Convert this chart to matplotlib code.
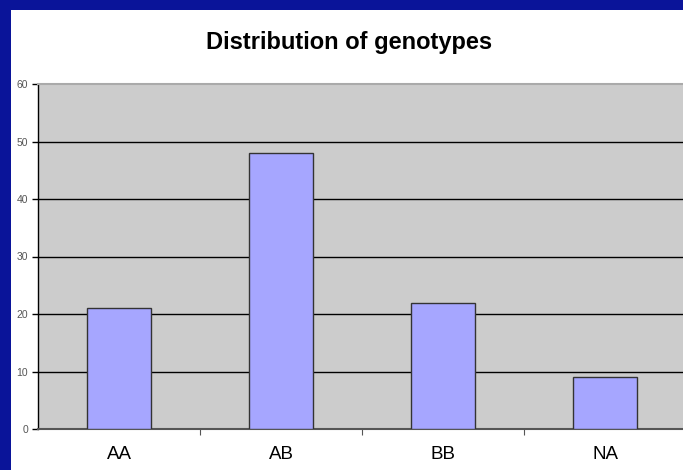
import matplotlib.pyplot as plt
import matplotlib.patches as patches
import numpy as np

categories = ['AA', 'AB', 'BB', 'NA']
counts = [21, 48, 22, 9]
yticks = [0, 10, 20, 30, 40, 50, 60]

W, H = 683, 470
fig = plt.figure(figsize=(W / 100, H / 100), dpi=100, facecolor='#0a1499')

# white panel inside the blue frame
fig.patches.append(patches.Rectangle((11 / W, 0), 1 - 11 / W, 1 - 10 / H,
                                     transform=fig.transFigure, facecolor='white',
                                     edgecolor='none', zorder=-5))

ax = fig.add_axes([38 / W, 1 - 429 / H, 648 / W, 345 / H])
ax.set_facecolor('#cccccc')

x = np.arange(len(categories)) + 0.5
ax.bar(x, counts, width=0.395, color='#a6a6ff', edgecolor='#333333',
       linewidth=1, zorder=3)

ax.set_xlim(0, len(categories))
ax.set_ylim(0, 60)

# gridlines
ax.set_yticks(yticks)
ax.set_yticklabels([str(t) for t in yticks], fontsize=7.5, color='#555555',
                   family='Liberation Sans')
for t in yticks[1:-1]:
    ax.axhline(t, color='black', linewidth=1, zorder=1)

ax.set_xticks(x)
ax.set_xticklabels(categories, fontsize=13.5, family='Liberation Sans')
ax.set_xticks(np.arange(1, len(categories)), minor=True)
ax.tick_params(axis='x', which='major', length=0, pad=12)
ax.tick_params(axis='x', which='minor', length=4, width=0.8, color='#555555')
ax.tick_params(axis='y', length=4, width=1, pad=3)

ax.spines['right'].set_visible(False)
ax.spines['top'].set_color('#aaaaaa')
ax.spines['top'].set_linewidth(1.5)
ax.spines['left'].set_color('black')
ax.spines['left'].set_linewidth(1)
ax.spines['bottom'].set_color('#555555')
ax.spines['bottom'].set_linewidth(1.5)

fig.text(349 / W, 1 - 43 / H, 'Distribution of genotypes', ha='center',
         va='center', fontsize=17, fontweight='bold', family='Liberation Sans')

fig.savefig('out.png', dpi=100, facecolor=fig.get_facecolor())
